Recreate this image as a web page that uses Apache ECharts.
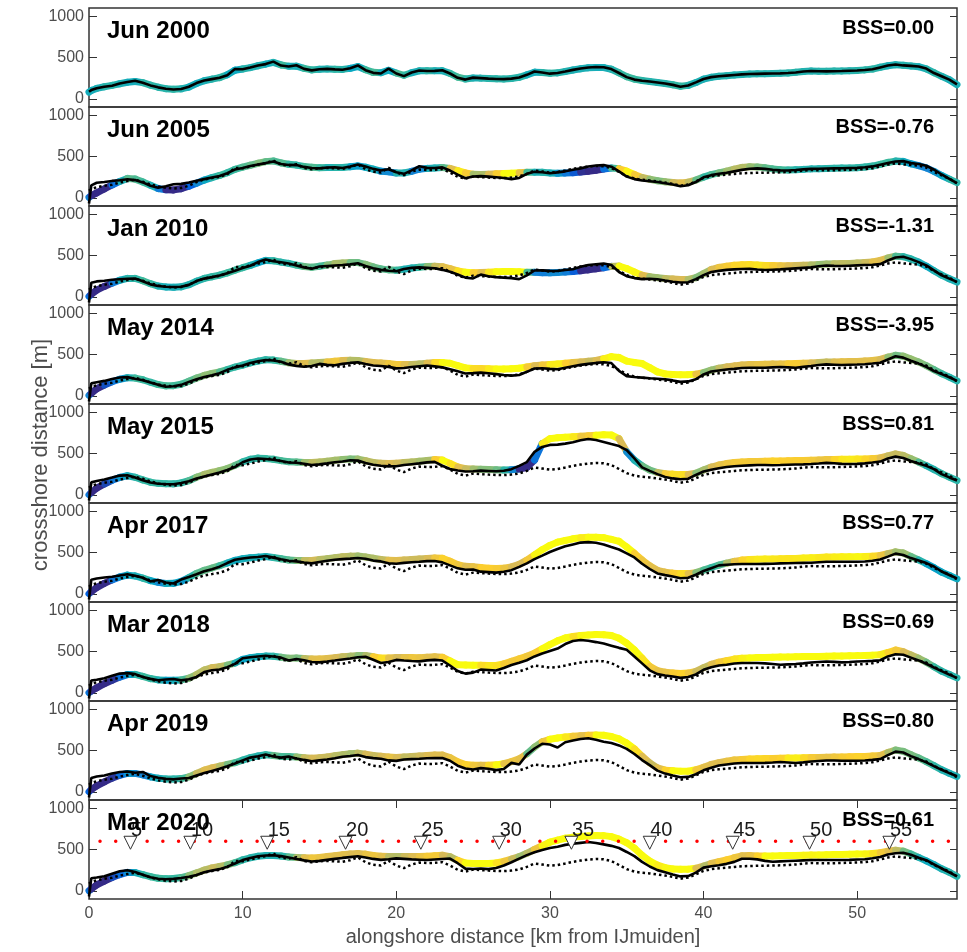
<!DOCTYPE html>
<html><head><meta charset="utf-8">
<script src="https://cdn.jsdelivr.net/npm/echarts@6/dist/echarts.min.js"></script>
<style>html,body{margin:0;padding:0;background:#fff}#chart{width:967px;height:952px}</style>
</head><body><div id="chart"></div>
<script>
// alongshore positions [km from IJmuiden]
const xsKm = [0,0.15,0.5,1,1.5,2,2.5,3,3.5,4,
4.5,5,5.5,6,6.5,7,7.5,8,8.5,9,
9.5,10,10.5,11,11.5,12,12.5,13,13.5,14,
14.5,15,15.5,16,16.5,17,17.5,18,18.5,19,
19.5,20,20.5,21,21.5,22,22.5,23,23.5,24,
24.5,25,25.5,26,26.5,27,27.5,28,28.5,29,
29.5,30,30.5,31,31.5,32,32.5,33,33.5,34,
34.5,35,35.5,36,36.5,37,37.5,38,38.5,39,
39.5,40,40.5,41,41.5,42,42.5,43,43.5,44,
44.5,45,45.5,46,46.5,47,47.5,48,48.5,49,
49.5,50,50.5,51,51.5,52,52.5,53,53.5,54,
54.5,55,55.5,56,56.5];

const panelTitles = ['Jun 2000','Jun 2005','Jan 2010','May 2014','May 2015','Apr 2017','Mar 2018','Apr 2019','Mar 2020'];
const bssLabels = ['BSS=0.00','BSS=-0.76','BSS=-1.31','BSS=-3.95','BSS=0.81','BSS=0.77','BSS=0.69','BSS=0.80','BSS=0.61'];

// observed coastline positions [m]
const obsJun2000 = [85,105,128,146,158,184,202,218,194,162,
138,122,112,118,146,190,222,238,254,286,
360,358,378,402,420,450,402,390,406,362,
344,358,362,356,352,370,404,346,314,306,
364,306,274,318,342,336,338,346,306,254,
232,256,250,244,240,238,244,258,290,330,
318,304,312,330,350,366,378,384,382,360,
312,262,232,218,210,198,184,168,146,160,
198,240,262,272,280,288,296,300,302,304,
306,308,312,318,330,336,334,332,334,336,
340,342,348,358,380,402,416,404,398,390,
366,312,272,232,174];
const obsJun2005 = [-70,150,182,190,204,212,224,214,186,146,
122,140,164,168,184,206,226,246,264,298,
342,360,384,402,420,440,410,398,396,374,
360,356,366,368,360,380,404,378,350,330,
346,310,290,332,382,362,360,368,330,280,
236,258,262,256,248,240,226,240,290,314,
310,296,308,320,340,356,378,390,396,376,
320,256,226,210,200,190,176,160,140,152,
190,248,274,290,302,320,338,352,356,350,
340,332,330,336,344,350,352,354,356,358,
360,362,370,380,400,420,440,444,420,410,
388,340,282,230,176];
const obsJan2010 = [-70,170,186,194,206,212,218,222,188,150,
130,122,118,122,144,190,220,238,258,286,
314,348,376,420,452,430,418,404,380,356,
340,366,372,378,384,392,406,372,346,326,
316,310,336,350,356,352,346,326,302,270,
232,222,268,248,238,232,226,214,260,318,
320,314,312,324,334,364,384,394,402,384,
300,250,226,214,218,212,196,182,172,176,
214,262,300,314,326,332,336,338,330,324,
328,332,338,344,350,356,370,378,374,372,
376,380,384,388,396,440,476,484,456,420,
380,320,260,220,180];
const obsMay2014 = [-70,150,164,180,204,222,226,206,188,160,
132,110,116,132,168,200,228,248,274,314,
344,368,396,418,434,428,412,380,362,352,
360,386,374,370,386,398,406,384,366,360,
350,332,336,348,358,366,356,344,322,296,
270,274,280,272,262,252,244,252,290,330,
334,326,322,340,358,374,386,398,406,396,
302,238,228,220,212,206,200,186,168,174,
200,258,294,306,318,326,336,340,340,340,
344,348,344,340,350,360,372,380,376,372,
376,378,382,390,400,440,478,462,424,390,
350,300,262,224,180];
const obsMay2015 = [-70,150,166,186,208,232,236,210,176,148,
134,130,128,142,164,198,222,246,270,300,
336,394,428,440,434,424,408,390,388,376,
360,368,380,394,404,418,414,384,364,352,
344,346,360,370,380,392,398,352,312,294,
282,284,292,288,284,290,310,350,396,520,
580,604,608,620,636,660,676,664,640,614,
590,540,440,332,290,250,216,198,188,194,
240,282,304,322,336,346,352,356,360,360,
358,360,364,366,368,372,378,386,382,374,
372,374,380,390,402,440,462,446,410,380,
350,310,250,210,172];
const obsApr2017 = [-70,170,184,196,206,222,236,218,194,150,
166,136,124,172,202,236,272,298,328,372,
412,428,440,446,458,438,418,400,392,378,
368,384,400,412,420,426,434,424,402,392,
370,364,374,382,388,396,396,380,344,308,
290,294,268,262,256,266,286,326,368,420,
462,506,542,576,598,620,626,618,598,566,
536,490,440,364,300,246,226,208,188,194,
230,276,310,344,352,358,360,360,360,362,
364,368,370,372,374,376,382,388,388,388,
388,388,390,400,416,450,486,470,432,404,
372,330,270,228,186];
const obsMar2018 = [-70,148,158,176,206,232,238,226,190,168,
152,160,166,150,164,192,250,272,282,310,
350,418,430,440,448,440,426,392,410,394,
372,368,378,390,404,416,430,436,400,360,
372,398,390,384,380,392,398,390,330,264,
232,244,280,276,270,300,336,364,394,440,
476,506,536,590,628,640,630,614,596,570,
544,520,440,356,272,226,210,196,180,190,
222,278,310,330,340,354,360,360,360,356,
348,340,344,348,356,366,372,378,374,368,
372,378,382,386,394,440,466,460,426,392,
352,306,262,220,180];
const obsApr2019 = [-70,168,184,198,222,240,246,230,240,190,
170,156,150,160,166,196,226,252,278,308,
342,380,414,430,452,428,414,426,404,386,
370,380,390,406,424,434,446,420,408,400,
380,374,390,396,400,406,408,408,376,316,
282,270,286,278,262,276,350,330,450,524,
582,572,536,600,622,640,648,630,606,590,
562,520,458,384,322,256,220,196,176,180,
212,260,290,318,330,342,348,348,348,350,
354,360,354,348,356,366,372,378,378,376,
376,376,378,386,396,444,486,476,432,396,
356,310,266,226,188];
const obsMar2020 = [-70,152,160,176,206,236,248,228,194,164,
146,140,144,154,170,190,224,246,262,292,
330,372,398,418,428,430,420,404,386,368,
354,362,374,386,398,408,418,404,386,374,
382,392,386,380,376,372,378,384,390,334,
268,264,270,262,276,306,346,390,432,466,
494,518,534,556,570,580,590,578,562,544,
518,470,420,350,294,250,224,196,174,178,
220,280,296,310,326,350,388,388,380,362,
352,356,360,364,368,372,372,372,372,372,
374,378,382,394,410,440,454,460,436,400,
370,320,270,222,174];

// modelled coastline positions [m]
const modJun2000 = [80,100,125,145,162,182,200,210,195,165,
140,122,115,120,142,185,218,238,256,290,
345,360,378,400,420,440,410,395,395,368,
350,358,360,358,356,368,390,352,320,315,
345,312,285,315,338,338,340,340,308,262,
240,252,250,245,242,240,245,260,290,322,
318,308,314,330,348,364,376,380,378,358,
315,268,238,222,210,198,184,170,152,162,
196,238,260,272,280,288,295,300,302,304,
306,308,313,320,330,335,334,333,335,337,
340,343,350,360,382,400,412,405,398,388,
362,316,272,230,170];
const modJun2005 = [5,25,60,108,155,198,234,226,192,152,
112,96,95,110,140,176,214,244,270,304,
344,370,394,418,438,446,422,406,396,380,
370,365,366,366,366,376,386,370,348,322,
314,300,300,320,346,356,360,366,356,330,
302,286,282,286,290,294,298,304,308,310,
308,300,296,300,304,312,322,334,348,360,
352,322,282,246,224,206,194,186,180,188,
214,250,280,302,322,346,368,376,374,364,
350,340,336,338,344,350,352,355,358,360,
362,365,372,384,404,428,444,440,412,390,
362,320,270,226,184];
const modJan2010 = [5,30,80,125,165,200,222,222,194,158,
130,118,114,120,146,188,222,242,262,290,
322,352,380,412,440,436,420,404,384,366,
358,370,384,402,410,414,414,392,362,338,
326,322,334,348,358,366,370,364,340,314,
298,292,294,298,302,306,306,302,298,296,
292,290,294,300,306,314,326,340,352,368,
372,342,300,262,244,232,222,214,208,210,
232,280,330,356,370,382,388,390,386,380,
378,376,376,378,382,386,392,398,400,402,
404,408,414,422,440,470,492,486,458,420,
372,316,262,218,178];
const modMay2014 = [5,30,85,130,170,200,218,214,194,164,
136,120,122,140,176,214,246,270,290,318,
348,372,398,420,436,432,418,400,390,390,
396,404,410,418,426,430,428,416,404,396,
390,380,378,380,386,394,402,404,394,366,
338,330,330,326,324,324,326,334,348,364,
372,378,386,394,402,410,418,428,448,474,
464,420,404,390,340,290,264,258,256,256,
262,280,310,334,350,362,372,378,380,382,
384,386,388,390,394,398,404,408,410,412,
414,416,420,428,440,468,490,480,446,410,
366,316,268,226,180];
const modMay2015 = [0,25,80,130,175,210,230,212,180,152,
138,134,132,144,170,212,246,272,292,318,
356,398,430,444,438,430,414,400,396,392,
390,396,406,418,428,434,432,412,392,382,
380,382,390,398,406,414,426,420,380,336,
316,312,310,306,302,300,304,312,330,420,
620,680,690,696,702,708,714,720,726,724,
680,520,420,350,300,270,256,250,244,246,
260,300,336,360,378,390,398,402,404,406,
408,410,412,414,416,418,422,426,428,430,
430,432,434,438,446,470,494,476,436,396,
352,306,256,214,172];
const modApr2017 = [0,25,75,125,168,204,226,216,190,160,
138,124,126,150,196,246,284,312,340,372,
404,424,436,444,452,440,424,410,404,402,
404,414,426,438,448,456,458,446,430,416,
406,404,408,414,420,428,434,430,394,352,
332,326,318,310,306,310,326,356,408,470,
534,586,626,646,666,678,684,686,680,660,
636,566,490,410,340,284,262,250,244,244,
256,286,318,346,370,392,408,414,418,420,
422,424,426,428,432,436,440,444,446,448,
448,450,452,456,464,486,508,494,452,410,
366,316,262,222,180];
const modMar2018 = [0,20,60,110,150,190,220,222,198,172,
156,152,152,156,176,220,276,304,316,334,
360,404,424,436,444,442,430,418,420,416,
408,408,416,426,436,444,452,452,436,420,
420,428,428,426,424,430,436,430,386,340,
336,334,332,330,330,350,380,410,442,480,
532,584,630,664,682,694,700,706,704,694,
660,600,520,420,320,268,248,240,232,238,
260,304,344,370,390,408,418,422,426,428,
430,432,434,436,438,440,440,442,444,446,
448,450,452,456,462,488,518,498,458,418,
370,316,262,222,180];
const modApr2019 = [0,25,70,120,165,200,222,222,204,180,
164,156,154,160,180,222,262,290,310,330,
352,384,414,434,448,440,428,428,420,412,
406,412,422,436,450,460,468,456,440,430,
420,414,420,426,432,440,446,444,414,362,
330,322,322,320,326,340,366,398,460,540,
606,636,652,664,672,680,686,688,684,670,
640,590,520,430,350,290,262,254,250,250,
266,296,330,352,370,384,392,398,400,402,
404,406,408,410,412,414,416,418,420,422,
424,426,428,432,440,476,506,490,450,410,
366,316,266,224,186];
const modMar2020 = [0,22,70,118,160,196,222,220,196,170,
152,146,148,160,184,216,250,276,294,314,
340,374,400,418,428,428,420,410,404,400,
398,404,414,424,436,446,452,444,428,418,
414,416,416,414,414,418,424,430,412,368,
336,330,330,330,336,356,384,414,454,500,
546,588,614,636,650,658,664,670,668,656,
626,582,516,430,360,310,280,264,260,262,
272,300,330,352,374,400,424,428,422,420,
422,424,426,428,430,432,434,436,438,440,
442,444,446,452,462,478,492,480,446,404,
362,316,266,224,174];

// beach pole markers (bottom panel)
const markerKm = [2.7,6.6,11.6,16.7,21.6,26.7,31.4,36.5,41.9,46.9,52.1];
const markerLabels = ['5','10','15','20','25','30','35','40','45','50','55'];
const markerLineY = 600;
const xTickValues = [0,10,20,30,40,50];
const yTickValues = [0,500,1000];

const obsList = [obsJun2000,obsJun2005,obsJan2010,obsMay2014,obsMay2015,obsApr2017,obsMar2018,obsApr2019,obsMar2020];
const modList = [modJun2000,modJun2005,modJan2010,modMay2014,modMay2015,modApr2017,modMar2018,modApr2019,modMar2020];

const FONT = "'Liberation Sans', Arial, Helvetica, sans-serif";
const L = 89, R = 10, TOP0 = 8, PH = 99;
const N = panelTitles.length;

const parulaStops = [[0,[53,42,135]],[0.125,[3,99,225]],[0.25,[20,133,212]],[0.375,[6,167,198]],
  [0.5,[56,185,158]],[0.625,[146,191,115]],[0.75,[217,186,86]],[0.875,[252,206,46]],[1,[249,251,14]]];
function parula(d){
  let t = 0.45 + d / 115; t = Math.max(0, Math.min(1, t));
  for (let k = 0; k < parulaStops.length - 1; k++) {
    const a = parulaStops[k], b = parulaStops[k+1];
    if (t <= b[0]) {
      const f = (t - a[0]) / (b[0] - a[0]);
      const c = a[1].map((v, j) => Math.round(v + (b[1][j] - v) * f));
      return 'rgb(' + c.join(',') + ')';
    }
  }
  return 'rgb(249,251,14)';
}
function bandRenderer(mod, obs){
  return function(params, api){
    const k = params.dataIndex;
    if (k >= xsKm.length - 1) return {type:'group', children:[]};
    const p0 = api.coord([xsKm[k], mod[k]]);
    const p1 = api.coord([xsKm[k+1], mod[k+1]]);
    const d = ((mod[k] - obs[k]) + (mod[k+1] - obs[k+1])) / 2;
    return {type:'line', shape:{x1:p0[0], y1:p0[1], x2:p1[0], y2:p1[1]},
      style:{stroke: parula(d), lineWidth: 7, lineCap:'round'}};
  };
}
const plainNum = v => String(v);

const grids = [], xAxes = [], yLeft = [], yRight = [], series = [], graphics = [];
for (let i = 0; i < N; i++) {
  const top = TOP0 + PH * i;
  const last = i === N - 1;
  grids.push({left:L, right:R, top:top, height:PH, show:true, borderColor:'#333', borderWidth:1.5});
  xAxes.push({type:'value', gridIndex:i, position:'bottom', min:0, max:56.5, interval:10,
    axisLine:{show:false, onZero:false}, splitLine:{show:false},
    axisTick:{show:last, inside:true, length:8, customValues:xTickValues, lineStyle:{color:'#333'}},
    axisLabel:{show:last, customValues:xTickValues, formatter:plainNum, fontSize:16, color:'#4d4d4d', margin:7, fontFamily:FONT}});
  yLeft.push({type:'value', gridIndex:i, position:'left', min:-100, max:1100,
    axisLine:{show:false, onZero:false}, splitLine:{show:false},
    axisTick:{inside:true, length:8, customValues:yTickValues, lineStyle:{color:'#333'}},
    axisLabel:{customValues:yTickValues, formatter:plainNum, fontSize:16, color:'#4d4d4d', margin:5, fontFamily:FONT}});
  yRight.push({type:'value', gridIndex:i, position:'right', min:-100, max:1100,
    axisLine:{show:false, onZero:false}, splitLine:{show:false},
    axisTick:{inside:true, length:7, customValues:yTickValues, lineStyle:{color:'#333'}},
    axisLabel:{show:false}});
  const obs = obsList[i], mod = modList[i];
  series.push({type:'custom', xAxisIndex:i, yAxisIndex:i, silent:true, z:1,
    data: xsKm.map((x,k)=>[x, mod[k]]), encode:{x:0, y:1}, renderItem: bandRenderer(mod, obs)});
  if (i > 0) {
    series.push({type:'line', xAxisIndex:i, yAxisIndex:i, silent:true, z:2, symbol:'none',
      data: xsKm.map((x,k)=>[x, obsJun2000[k]]),
      lineStyle:{color:'#000', width:2.5, type:[2.5,3]}});
  }
  series.push({type:'line', xAxisIndex:i, yAxisIndex:i, silent:true, z:3, symbol:'none',
    data: xsKm.map((x,k)=>[x, obs[k]]), lineStyle:{color:'#000', width:2.6}});
  graphics.push({type:'text', x:107, y:top + 23, z:100,
    style:{text:panelTitles[i], font:'bold 24px ' + FONT, fill:'#000', textAlign:'left', textVerticalAlign:'middle'}});
  graphics.push({type:'text', x:934, y:top + 20.5, z:100,
    style:{text:bssLabels[i], font:'bold 20px ' + FONT, fill:'#000', textAlign:'right', textVerticalAlign:'middle'}});
}
// top ticks of bottom panel
xAxes.push({type:'value', gridIndex:N-1, position:'top', min:0, max:56.5, interval:10,
  axisLine:{show:false, onZero:false}, splitLine:{show:false},
  axisTick:{inside:true, length:8, customValues:xTickValues, lineStyle:{color:'#333'}}, axisLabel:{show:false}});

series.push({type:'line', xAxisIndex:N-1, yAxisIndex:N-1, silent:true, z:4, symbol:'none',
  data:[[0, markerLineY],[56.5, markerLineY]],
  lineStyle:{color:'#ff0000', width:3.5, type:[0.01,15.7], cap:'round', dashOffset:4.7}});
series.push({type:'scatter', xAxisIndex:N-1, yAxisIndex:N-1, silent:true, z:5,
  data: markerKm.map((x,k)=>({name:markerLabels[k], value:[x, markerLineY]})),
  symbol:'triangle', symbolRotate:180, symbolSize:13, symbolOffset:[0,1.5],
  itemStyle:{color:'#fff', borderColor:'#333', borderWidth:1, opacity:1},
  label:{show:true, formatter:'{b}', position:[7.5,-5.5], align:'left', verticalAlign:'middle',
    fontSize:20, color:'#1a1a1a', fontFamily:FONT}});

graphics.push({type:'text', x:523, y:937, z:100,
  style:{text:'alongshore distance [km from IJmuiden]', font:'20px ' + FONT, fill:'#4d4d4d', textAlign:'center', textVerticalAlign:'middle'}});
graphics.push({type:'text', x:41, y:455, rotation:Math.PI/2, z:100,
  style:{text:'crossshore distance [m]', font:'22px ' + FONT, fill:'#4d4d4d', textAlign:'center', textVerticalAlign:'middle'}});

const chart = echarts.init(document.getElementById('chart'), null, {renderer:'canvas'});
chart.setOption({
  animation:false,
  backgroundColor:'#fff',
  grid: grids,
  xAxis: xAxes,
  yAxis: yLeft.concat(yRight),
  series: series,
  graphic: {elements: graphics}
});
</script></body></html>
